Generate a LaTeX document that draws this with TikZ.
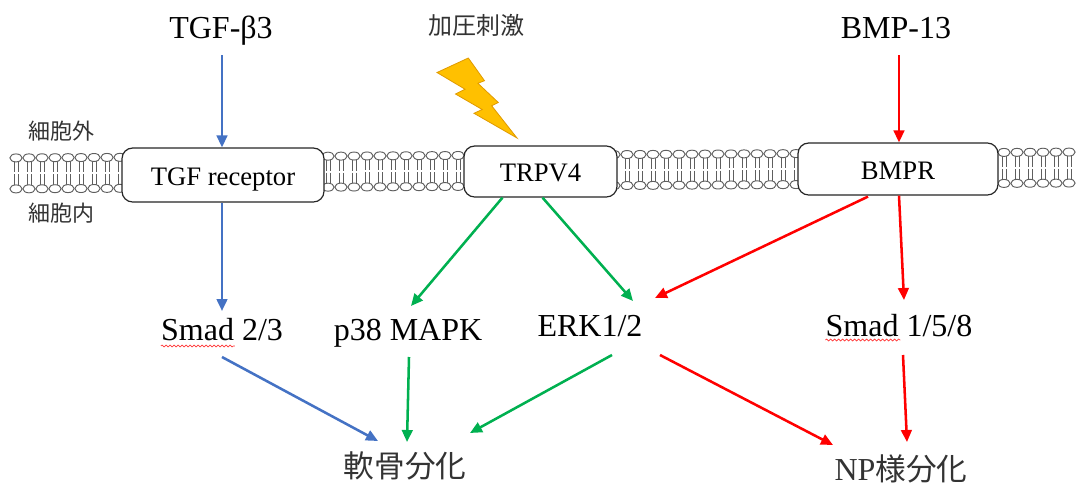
\documentclass[tikz,border=0pt]{standalone}
\usepackage{fontspec}
\setmainfont{Liberation Serif}
\newfontfamily\jpfont{Noto Sans CJK JP}
\usetikzlibrary{arrows.meta,calc,decorations.pathmorphing}
\definecolor{sigblue}{HTML}{4472C4}
\definecolor{siggreen}{HTML}{00B050}
\definecolor{sigred}{HTML}{FF0000}
\definecolor{boltfill}{HTML}{FFC000}
\definecolor{boltedge}{HTML}{E09A00}
\definecolor{lipidgray}{HTML}{5E5E5E}
\begin{document}
\begin{tikzpicture}[x=0.75pt,y=-0.75pt,
  lbl/.style={font=\fontsize{24}{28}\selectfont, inner sep=0pt},
  jplbl/.style={font=\jpfont\fontsize{23}{26}\selectfont, text=black!80, inner sep=0pt},
  jpsmall/.style={font=\jpfont\fontsize{16.5}{19}\selectfont, text=black!80, inner sep=0pt},
  recbox/.style={draw=black!85, fill=white, rounded corners=8pt, line width=0.9pt,
    font=\fontsize{20}{24}\selectfont, inner sep=0pt, text height=15pt, text depth=0pt},
  arr/.style={line width=1.9pt, -{Triangle[length=9pt,width=8pt]}},
  tail/.style={draw=lipidgray, line width=0.75pt},
  head/.style={draw=lipidgray, fill=white, line width=0.7pt},
  bolt/.style={fill=boltfill, draw=boltedge, line width=0.6pt, line join=miter},
  spell/.style={draw=sigred!80, line width=0.5pt, decorate,
    decoration={snake, amplitude=0.7pt, segment length=3pt}}
]
\useasboundingbox (0,0) rectangle (1079,486);

% lipid bilayer
\foreach \i in {0,...,81}{
  \pgfmathsetmacro\lx{16+13*\i}
  \pgfmathsetmacro\ty{158-6*\lx/1079}
  \pgfmathsetmacro\by{\ty+31}
  \pgfmathsetmacro\my{\ty+15.5}
  \draw[tail] (\lx-2,\ty) -- (\lx-2,\my-1) (\lx-2,\my+1) -- (\lx-2,\by)
              (\lx+2,\ty) -- (\lx+2,\my-1) (\lx+2,\my+1) -- (\lx+2,\by);
  \draw[head] (\lx,\ty) ellipse[x radius=4.6pt, y radius=3pt]
              (\lx,\by) ellipse[x radius=4.6pt, y radius=3pt];
}

% receptors in the membrane
\node[recbox, minimum width=151.5pt, minimum height=40.5pt] (tgfr) at (223,175) {TGF receptor};
\node[recbox, minimum width=114.75pt, minimum height=38.25pt] (trpv) at (540.5,171.5) {TRPV4};
\node[recbox, minimum width=150pt, minimum height=39pt] (bmpr) at (898,169) {BMPR};

% side labels
\node[jpsmall] (extra) at (61,131) {細胞外};
\node[jpsmall] (intra) at (61,213) {細胞内};

% ligands and stimulus
\node[lbl, anchor=base] (tgfb3) at (221,38) {TGF-β3};
\node[lbl, anchor=base] (bmp13) at (896,38) {BMP-13};
\node[jplbl, font=\jpfont\fontsize{18}{20}\selectfont] (press) at (476,25) {加圧刺激};

% mechanical stimulus bolt
\draw[bolt] (468.3,58) -- (437,72.5) -- (465,89.2) -- (455.5,94) -- (482.2,109.5)
  -- (474,113.3) -- (517,138) -- (491.7,105.8) -- (498.3,102.5) -- (477.9,83.3)
  -- (484.5,80.7) -- cycle;

% signalling molecules
\node[lbl, anchor=base] (smad23) at (222,340) {Smad 2/3};
\node[lbl, anchor=base] (p38) at (408,340) {p38 MAPK};
\node[lbl, anchor=base] (erk) at (590,336) {ERK1/2};
\node[lbl, anchor=base] (smad158) at (899,336) {Smad 1/5/8};

% outcomes
\node[jplbl] (chondro) at (405,466) {軟骨分化};
\node[inner sep=0pt, text=black!80] (npdiff) at (901,469)
  {{\fontsize{24}{28}\selectfont NP}{\jpfont\fontsize{23}{26}\selectfont 様分化}};

% spell-check marks
\draw[spell] ($(smad23.base west)+(0,6)$) -- ++(74,0);
\draw[spell] ($(smad158.base west)+(0,4)$) -- ++(75,0);

% TGF pathway
\draw[arr, sigblue] ($(tgfb3.base)+(1,17)$) -- ($(tgfr.north)+(-1,0)$);
\draw[arr, sigblue] ($(tgfr.south)+(-1,0)$) -- ($(smad23.base)+(0,-29)$);
\draw[arr, sigblue] ($(smad23.base)+(0,17)$) -- ($(chondro)+(-27,-25)$);

% TRPV4 pathway
\draw[arr, siggreen] ($(trpv.south)+(-38,0)$) -- ($(p38.base)+(3,-34)$);
\draw[arr, siggreen] ($(trpv.south)+(2,0)$) -- ($(erk.base)+(43,-35)$);
\draw[arr, siggreen] ($(p38.base)+(1,17)$) -- ($(chondro)+(2,-24)$);
\draw[arr, siggreen] ($(erk.base)+(22,19)$) -- ($(chondro)+(65,-33)$);

% BMP pathway
\draw[arr, sigred] ($(bmp13.base)+(3,17)$) -- ($(bmpr.north)+(1,0)$);
\draw[arr, sigred] ($(bmpr.south)+(-30,1)$) -- ($(erk.base)+(65,-38)$);
\draw[arr, sigred] ($(bmpr.south)+(1,0)$) -- ($(smad158.base)+(5,-36)$);
\draw[arr, sigred] ($(erk.base)+(70,19)$) -- ($(npdiff)+(-68,-24)$);
\draw[arr, sigred] ($(smad158.base)+(4,19)$) -- ($(npdiff)+(6,-27)$);
\end{tikzpicture}
\end{document}
